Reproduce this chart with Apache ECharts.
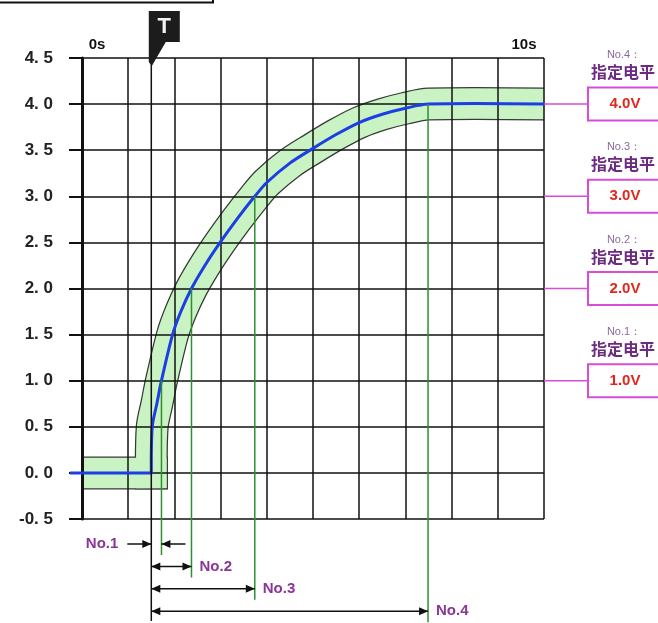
<!DOCTYPE html>
<html>
<head>
<meta charset="utf-8">
<script src="https://cdn.jsdelivr.net/npm/echarts@6/dist/echarts.min.js"></script>
<style>
html, body { margin: 0; padding: 0; background: #fff; }
#main { width: 658px; height: 623px; }
</style>
</head>
<body>
<div id="main"></div>
<script>
// tick labels
const yTicks = ['-0. 5', '0. 0', '0. 5', '1. 0', '1. 5', '2. 0', '2. 5', '3. 0', '3. 5', '4. 0', '4. 5'];
const timeLabels = { 0: '0s', 10: '10s' };

// response curve (time s, voltage V)
// flat part before the trigger, then the rise after it
const baseT = [0, 1.5];
const baseV = [0, 0];
const riseT = [1.5, 1.52, 1.62, 1.72, 1.96, 2.14, 2.37, 2.66, 2.99, 3.35, 3.74, 4.0, 4.5, 5.0, 5.5, 6.0, 6.5, 7.0, 7.5, 10];
const riseV = [0, 0.5, 0.75, 1.0, 1.5, 1.75, 2.0, 2.25, 2.5, 2.75, 3.0, 3.15, 3.36, 3.52, 3.67, 3.8, 3.89, 3.955, 4.0, 4.0];
const leadT = -0.26; // blue line starts at the axis line

// trigger and the four level points
const triggerT = 1.5;
const levelNames = ['No.1', 'No.2', 'No.3', 'No.4'];
const levelV = [1.0, 2.0, 3.0, 4.0];
const levelText = ['1.0V', '2.0V', '3.0V', '4.0V'];
const crossT = [1.72, 2.37, 3.74, 7.49];

const risePts = riseT.map((t, i) => [t, riseV[i]]);

const chart = echarts.init(document.getElementById('main'));
const fontNarrow = '"Liberation Sans Narrow", "Arial Narrow", "Liberation Sans", sans-serif';
const purple = '#8a3597';
const magenta = '#d84cd6';

function poly(pts, smooth, color, w, cap) {
  return {
    type: 'polyline', shape: { points: pts, smooth: smooth },
    style: { fill: null, stroke: color, lineWidth: w, lineCap: cap, lineJoin: 'round' }
  };
}

// tolerance band: thick dark stroke under a slightly thinner green stroke
function renderBand(params, api) {
  if (params.dataIndex !== 0) return null;
  const b = baseT.map((t, i) => api.coord([t, baseV[i]]));
  const r = riseT.map((t, i) => api.coord([t, riseV[i]]));
  return {
    type: 'group', children: [
      poly(b, 0, '#343a34', 33, 'square'), poly(r, 0.3, '#343a34', 33, 'square'),
      poly(b, 0, '#c9f3c3', 30.5, 'square'), poly(r, 0.3, '#c9f3c3', 30.5, 'square')
    ]
  };
}

function renderCurve(params, api) {
  if (params.dataIndex !== 0) return null;
  const b = [api.coord([leadT, 0])].concat(baseT.map((t, i) => api.coord([t, baseV[i]])));
  const r = riseT.map((t, i) => api.coord([t, riseV[i]]));
  return {
    type: 'group', children: [
      poly(b, 0, '#1d3ee4', 3, 'butt'), poly(r, 0.3, '#1d3ee4', 3, 'round')
    ]
  };
}

const option = {
  animation: false,
  grid: { left: 82, right: 114, top: 58, bottom: 104 },
  xAxis: {
    type: 'value', position: 'top', min: 0, max: 10, interval: 1, z: 3,
    axisLine: { show: false }, axisTick: { show: false },
    splitLine: { show: true, lineStyle: { color: '#111', width: 1.5 } },
    axisLabel: {
      margin: 6, color: '#111', fontWeight: 'bold', fontSize: 15, fontFamily: 'Liberation Sans',
      formatter: v => timeLabels[v] ? (v === 0 ? '{a|' + timeLabels[v] + '}' : '{b|' + timeLabels[v] + '}') : '',
      rich: {
        a: { padding: [0, 0, 0, 30], fontWeight: 'bold', fontSize: 15 },
        b: { padding: [0, 40, 0, 0], fontWeight: 'bold', fontSize: 15 }
      }
    }
  },
  yAxis: [{
    type: 'value', min: -0.5, max: 4.5, interval: 0.5, offset: 12, z: 3,
    axisLine: { show: true, lineStyle: { color: '#111', width: 3 } },
    axisTick: { show: true, length: 13, lineStyle: { color: '#111', width: 2 } },
    splitLine: { show: true, lineStyle: { color: '#111', width: 1.5 } },
    axisLabel: {
      margin: 17, color: '#222', fontWeight: 'bold', fontSize: 17, fontFamily: fontNarrow,
      formatter: v => yTicks[Math.round((v + 0.5) / 0.5)]
    }
  }, {
    type: 'value', min: -0.5, max: 4.5, interval: 0.5, offset: 12, position: 'left', z: 3,
    axisLine: { show: false },
    axisTick: { show: true, inside: true, length: 12, lineStyle: { color: '#111', width: 2 } },
    axisLabel: { show: false }, splitLine: { show: false }
  }],
  series: [{
    type: 'custom', data: risePts, encode: { x: 0, y: 1 }, renderItem: renderBand,
    clip: true, z: 2, silent: true
  }, {
    type: 'custom', data: risePts, encode: { x: 0, y: 1 }, renderItem: renderCurve,
    clip: false, z: 5, silent: true
  }]
};
chart.setOption(option);

const px = (t, v) => chart.convertToPixel({ xAxisIndex: 0, yAxisIndex: 0 }, [t, v]);
const g = [];
const [xT, yTop] = px(triggerT, 4.5);
const yBase = px(0, -0.5)[1];
const xRight = px(10, 0)[0];

function head(x, y, dir) {
  return { type: 'polygon', z: 20, shape: { points: [[x, y], [x - dir * 9, y - 4], [x - dir * 9, y + 4]] }, style: { fill: '#111' } };
}
function hline(x1, x2, y, color, w) {
  return { type: 'line', z: 20, shape: { x1: x1, y1: y, x2: x2, y2: y }, style: { stroke: color, lineWidth: w } };
}

// top-left frame fragment
g.push({ type: 'rect', z: 20, shape: { x: -5, y: -20, width: 218, height: 22.5 }, style: { fill: null, stroke: '#111', lineWidth: 2 } });

// trigger line and flag
g.push({ type: 'line', z: 19, shape: { x1: xT, y1: yTop, x2: xT, y2: yBase + 102 }, style: { stroke: '#111', lineWidth: 1.5 } });
g.push({ type: 'polygon', z: 21, shape: { points: [[xT - 2.5, yTop - 47], [xT + 28.5, yTop - 47], [xT + 28.5, yTop - 16], [xT + 14.5, yTop - 16], [xT + 0.5, yTop + 8], [xT - 2.5, yTop + 4]] }, style: { fill: '#1c1c1c' } });
g.push({ type: 'text', z: 22, style: { text: 'T', x: xT + 13, y: yTop - 31, align: 'center', verticalAlign: 'middle', fill: '#f2f2f2', font: 'bold 22px "Liberation Sans", sans-serif' } });

levelV.forEach((v, i) => {
  const [xc, yc] = px(crossT[i], v);
  const rowY = yBase + 25 + i * 22.4;
  // green drop line
  g.push({ type: 'line', z: 8, shape: { x1: xc, y1: yc, x2: xc, y2: rowY + 11 }, style: { stroke: '#2f8f2f', lineWidth: 1.5 } });
  // arrows
  if (i === 0) {
    g.push(hline(xT - 24, xT, rowY, '#111', 1.5), head(xT, rowY, 1));
    g.push(hline(xc, xc + 24, rowY, '#111', 1.5), head(xc, rowY, -1));
    g.push({ type: 'text', z: 20, style: { text: levelNames[i], x: xT - 33, y: rowY, align: 'right', verticalAlign: 'middle', fill: purple, font: 'bold 15px "Liberation Sans", sans-serif' } });
  } else {
    g.push(hline(xT, xc, rowY, '#111', 1.5), head(xT, rowY, -1), head(xc, rowY, 1));
    g.push({ type: 'text', z: 20, style: { text: levelNames[i], x: xc + 8, y: rowY, align: 'left', verticalAlign: 'middle', fill: purple, font: 'bold 15px "Liberation Sans", sans-serif' } });
  }
  // right side level boxes
  g.push(hline(xRight, 588, yc, magenta, 1.5));
  g.push({ type: 'rect', z: 20, shape: { x: 588, y: yc - 16.5, width: 80, height: 33 }, style: { fill: '#fff', stroke: magenta, lineWidth: 2 } });
  g.push({ type: 'text', z: 21, style: { text: levelText[i], x: 625, y: yc, align: 'center', verticalAlign: 'middle', fill: '#e2261b', font: 'bold 15px "Liberation Sans", sans-serif' } });
  g.push({ type: 'text', z: 21, style: { text: '指定电平', x: 623, y: yc - 32, align: 'center', verticalAlign: 'middle', fill: '#6c2a80', font: 'bold 16px "Noto Sans CJK SC", sans-serif' } });
  g.push({ type: 'text', z: 21, style: { text: levelNames[i] + '：', x: 624, y: yc - 49, align: 'center', verticalAlign: 'middle', fill: '#8a6a99', font: '11px "Liberation Sans", sans-serif' } });
});

chart.setOption({ graphic: g });
</script>
</body>
</html>
